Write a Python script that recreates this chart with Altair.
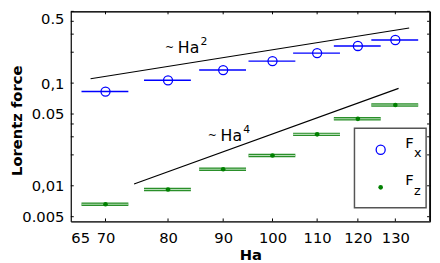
import altair as alt
import pandas as pd

# ---- data ----
ha = [70, 80, 90, 100, 110, 120, 130]
ha_lo = [66.5, 76, 85.5, 95, 104.5, 114, 123.5]
ha_hi = [73.5, 84, 94.5, 105, 115.5, 126, 136.5]
fx = [0.0828, 0.1064, 0.134, 0.1638, 0.196, 0.230, 0.263]
fz = [0.00662, 0.00921, 0.0145, 0.01975, 0.0317, 0.0449, 0.0612]

ha2_x = [67.8, 133.9]
ha2_y = [0.1103, 0.344]
ha4_x = [74.4, 130.9]
ha4_y = [0.01042, 0.0889]

lab_x = [79.5, 87.1]
lab_y = [0.1976, 0.02753]
lab_exp = ["2", "4"]

x_tick_vals = [65, 70, 80, 90, 100, 110, 120, 130]
x_inner_ticks = [70, 80, 90, 100, 110, 120, 130]
y_label_vals = [0.005, 0.01, 0.05, 0.1, 0.5]
y_label_text = ["0.005", "0,01", "0.05", "0,1", "0.5"]
y_inner_ticks = [0.005, 0.01, 0.02, 0.03, 0.04, 0.05, 0.1, 0.2, 0.3, 0.4, 0.5]

W, H = 366, 214
FONT = "DejaVu Sans"
BLUE = "#0000ff"
GREEN = "#008000"

df = pd.DataFrame({"Ha": ha, "lo": ha_lo, "hi": ha_hi, "Fx": fx, "Fz": fz})
l2 = pd.DataFrame({"Ha": ha2_x, "F": ha2_y})
l4 = pd.DataFrame({"Ha": ha4_x, "F": ha4_y})
lab = pd.DataFrame({"Ha": lab_x, "F": lab_y, "e": lab_exp})
xt = pd.DataFrame({"t": x_inner_ticks})
yt = pd.DataFrame({"t": y_inner_ticks})
one = pd.DataFrame({"a": [0]})

xs = alt.Scale(type="log", domain=[65, 140], nice=False)
ys = alt.Scale(type="log", domain=[0.0045, 0.5], nice=False)

lab_expr = "[" + ",".join("'%s'" % s for s in y_label_text) + "][indexof([" + \
    ",".join(repr(v) for v in y_label_vals) + "], datum.value)]"

x_axis = alt.Axis(values=x_tick_vals, format="d", title="Ha", grid=False,
                  domain=True, domainColor="#222222", domainWidth=1, domainOpacity=1,
                  ticks=False, tickSize=0, labelPadding=9,
                  labelFontSize=15, labelFont=FONT, labelColor="black",
                  titleFontSize=15, titleFont=FONT, titleFontWeight="bold",
                  titleColor="black", titleY=39, titleBaseline="alphabetic")
y_axis = alt.Axis(values=y_label_vals, labelExpr=lab_expr, title="Lorentz force",
                  grid=False, domain=True, domainColor="#222222", domainWidth=1, domainOpacity=1,
                  ticks=False, tickSize=0, labelPadding=7,
                  labelFontSize=15, labelFont=FONT, labelColor="black",
                  labelFlush=1,
                  titleFontSize=15, titleFont=FONT, titleFontWeight="bold",
                  titleColor="black", titleX=-50, titleY=111, titleAngle=270,
                  titleAlign="center", titleBaseline="alphabetic")


def X(f):
    return alt.X(f, type="quantitative", scale=xs, axis=x_axis)


def Y(f):
    return alt.Y(f, type="quantitative", scale=ys, axis=y_axis)


# top and right edges of the box (left/bottom are the axis domains)
edge_top = alt.Chart(one).mark_rule(color="#000000", strokeWidth=1, opacity=1).encode(
    x=alt.value(0), x2=alt.value(W), y=alt.value(0.5))
edge_right = alt.Chart(one).mark_rule(color="#222222", strokeWidth=1, opacity=1).encode(
    x=alt.value(W - 0.5), y=alt.value(0), y2=alt.value(H))

blue_bars = alt.Chart(df).mark_rule(color=BLUE, strokeWidth=1.5).encode(
    x=X("lo"), x2="hi", y=Y("Fx"))
green_bars_dark = alt.Chart(df).mark_rule(color="#2a8f2a", strokeWidth=3.5).encode(
    x=X("lo"), x2="hi", y=Y("Fz"))
green_bars_light = alt.Chart(df).mark_rule(color="#b5dcb5", strokeWidth=1.1).encode(
    x=X("lo"), x2="hi", y=Y("Fz"))

line2 = alt.Chart(l2).mark_line(color="black", strokeWidth=1.2).encode(x=X("Ha"), y=Y("F"))
line4 = alt.Chart(l4).mark_line(color="black", strokeWidth=1.2).encode(x=X("Ha"), y=Y("F"))

fx_pts = alt.Chart(df).mark_point(shape="circle", filled=False, color=BLUE,
                                  size=85, strokeWidth=1.3, opacity=1).encode(
    x=X("Ha"), y=Y("Fx"))
fz_pts = alt.Chart(df).mark_point(shape="circle", filled=True, color=GREEN,
                                  size=22, opacity=1).encode(
    x=X("Ha"), y=Y("Fz"))

tilde = alt.Chart(lab).mark_text(text="~", font=FONT, fontSize=11, align="left",
                                 baseline="alphabetic", dy=-2, color="black").encode(
    x=X("Ha"), y=Y("F"))
ha_txt = alt.Chart(lab).mark_text(text="Ha", font=FONT, fontSize=16, align="left",
                                  baseline="alphabetic", dx=13, color="black").encode(
    x=X("Ha"), y=Y("F"))
exp_txt = alt.Chart(lab).mark_text(font=FONT, fontSize=11, align="left",
                                   baseline="alphabetic", dx=36, dy=-8, color="black").encode(
    x=X("Ha"), y=Y("F"), text="e:N")

# inward ticks on all four sides
tick_style = dict(color="black", strokeWidth=1)
t_bottom = alt.Chart(xt).mark_rule(**tick_style).encode(
    x=X("t"), y=alt.value(H), y2=alt.value(H - 3))
t_top = alt.Chart(xt).mark_rule(**tick_style).encode(
    x=X("t"), y=alt.value(0), y2=alt.value(3))
t_left = alt.Chart(yt).mark_rule(**tick_style).encode(
    y=Y("t"), x=alt.value(0), x2=alt.value(3))
t_right = alt.Chart(yt).mark_rule(**tick_style).encode(
    y=Y("t"), x=alt.value(W), x2=alt.value(W - 3))

# legend box
leg_box = alt.Chart(one).mark_rect(fill="white", stroke="#555555", strokeWidth=1.5).encode(
    x=alt.value(289), x2=alt.value(362), y=alt.value(119), y2=alt.value(200))
leg_fx = alt.Chart(one).mark_point(shape="circle", filled=False, color=BLUE, size=85,
                                   strokeWidth=1.3, opacity=1).encode(
    x=alt.value(315.7), y=alt.value(141))
leg_fz = alt.Chart(one).mark_point(shape="circle", filled=True, color=GREEN, size=22,
                                   opacity=1).encode(
    x=alt.value(315.7), y=alt.value(179.3))
leg_F1 = alt.Chart(one).mark_text(text="F", font=FONT, fontSize=15, align="left",
                                  baseline="alphabetic", color="black").encode(
    x=alt.value(340.7), y=alt.value(139.3))
leg_x = alt.Chart(one).mark_text(text="x", font=FONT, fontSize=13, align="left",
                                 baseline="alphabetic", color="black").encode(
    x=alt.value(349.7), y=alt.value(148.3))
leg_F2 = alt.Chart(one).mark_text(text="F", font=FONT, fontSize=15, align="left",
                                  baseline="alphabetic", color="black").encode(
    x=alt.value(340.7), y=alt.value(177))
leg_z = alt.Chart(one).mark_text(text="z", font=FONT, fontSize=13, align="left",
                                 baseline="alphabetic", color="black").encode(
    x=alt.value(349.7), y=alt.value(187))

chart = alt.layer(
    blue_bars, green_bars_dark, green_bars_light, line2, line4, fx_pts, fz_pts,
    tilde, ha_txt, exp_txt, t_bottom, t_top, t_left, t_right, edge_top, edge_right,
    leg_box, leg_fx, leg_fz, leg_F1, leg_x, leg_F2, leg_z
).properties(
    width=W, height=H,
    autosize=alt.AutoSizeParams(type="none"),
    padding={"left": 64, "top": 1, "right": 2, "bottom": 42},
).configure(font=FONT, background="white").configure_view(stroke="#000000", strokeWidth=1)

chart.save("out.html", embed_options={"renderer": "svg", "actions": False})
